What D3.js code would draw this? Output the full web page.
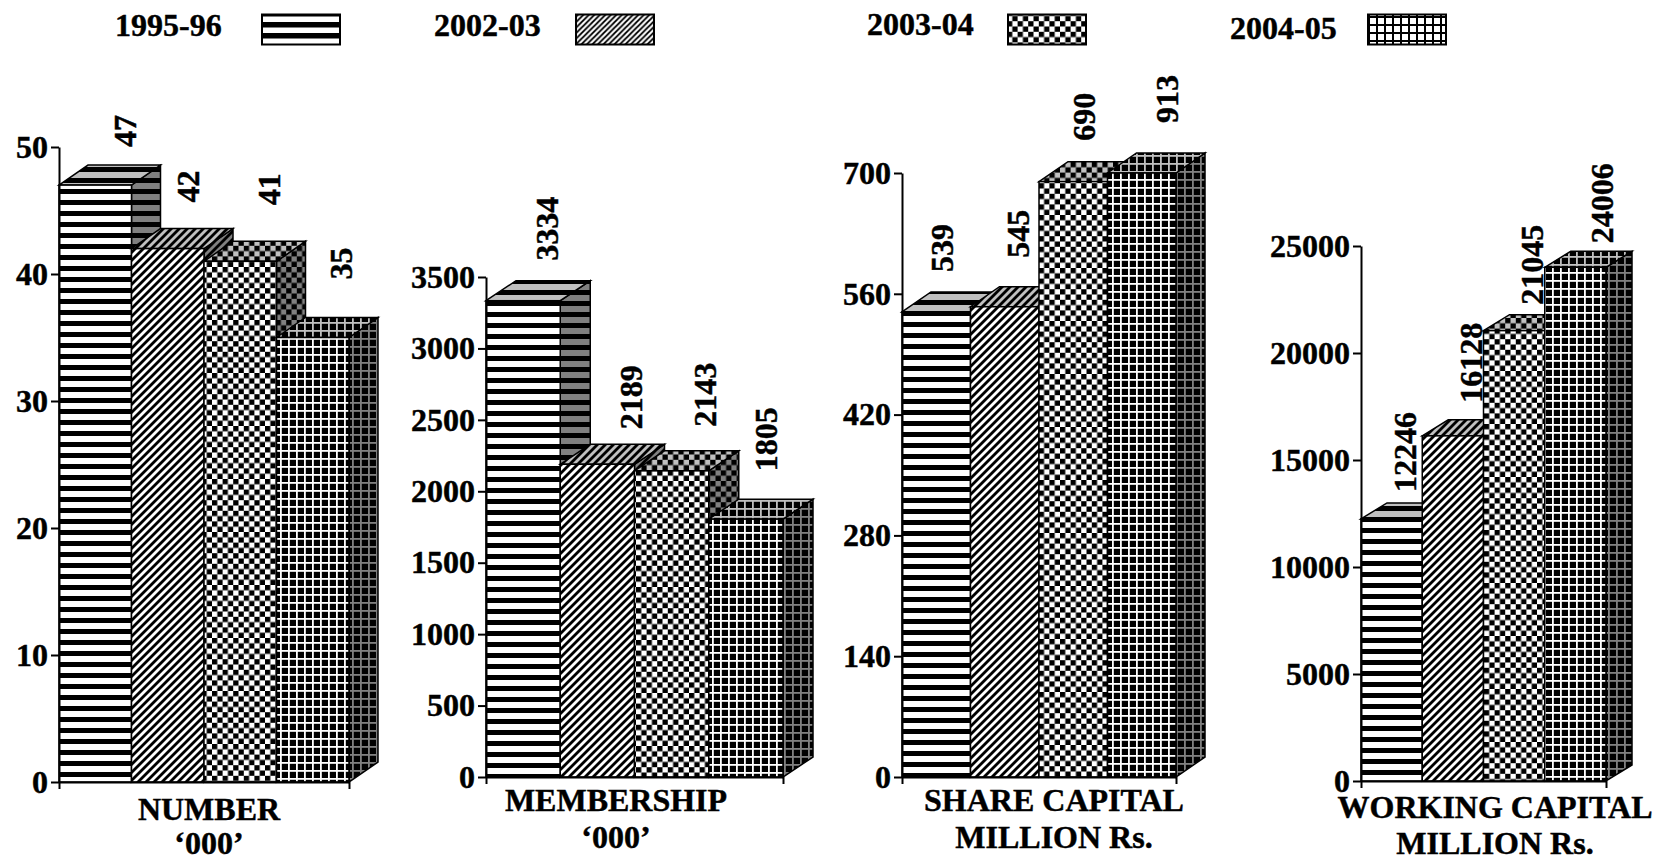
<!DOCTYPE html>
<html><head><meta charset="utf-8">
<script src="https://cdn.jsdelivr.net/npm/d3@7"></script>
<style>
html,body{margin:0;padding:0;background:#fff;overflow:hidden}
text{font-family:"Liberation Serif","Times New Roman",serif;font-weight:bold;fill:#000;stroke:#000;stroke-width:.45px}
</style></head><body>
<script>
const seasons = ["1995-96","2002-03","2003-04","2004-05"];
const numberValues = [47,42,41,35];
const membershipValues = [3334,2189,2143,1805];
const shareCapitalValues = [539,545,690,913];
const workingCapitalValues = [12246,16128,21045,24006];
const numberTicks = [0,10,20,30,40,50];
const membershipTicks = [0,500,1000,1500,2000,2500,3000,3500];
const shareCapitalTicks = [0,140,280,420,560,700];
const workingCapitalTicks = [0,5000,10000,15000,20000,25000];
const numberTitle = ["NUMBER","‘000’"];
const membershipTitle = ["MEMBERSHIP","‘000’"];
const shareCapitalTitle = ["SHARE CAPITAL","MILLION Rs."];
const workingCapitalTitle = ["WORKING CAPITAL","MILLION Rs."];

// layout (pixels), separate from the data
const panels = [
 {values:numberValues,ticks:numberTicks,title:numberTitle,x0:59,x1:349,y0:782,yTop:147,dx:29,dy:20,phase:2,
  ldx:[77,67.5,76,75.5],ldy:[-38,-46,-56,-58],tx:209,ty:[820,854]},
 {values:membershipValues,ticks:membershipTicks,title:membershipTitle,x0:486,x1:783,y0:777,yTop:277,dx:30,dy:20,phase:4,
  ldx:[72,81.75,81.5,68.25],ldy:[-40,-35,-44,-48],tx:616,ty:[811,848]},
 {values:shareCapitalValues,ticks:shareCapitalTicks,title:shareCapitalTitle,x0:902,x1:1176,y0:777,yTop:173,dx:29,dy:20,phase:3,
  ldx:[51,58.5,56,70.5],ldy:[-40,-49,-41,-50],tx:1054,ty:[811,848]},
 {values:workingCapitalValues,ticks:workingCapitalTicks,title:workingCapitalTitle,x0:1361,x1:1606,y0:781,yTop:246,dx:26,dy:16,phase:0,
  ldx:[55,59.75,59.5,68.25],ldy:[-27,-33,-26,-24],tx:1495,ty:[818,854]}
];
const legendLayout = [
 {tx:115,ty:36,sx:262},{tx:434,ty:36,sx:576},{tx:867,ty:35,sx:1008},{tx:1230,ty:39,sx:1368}
];
const FS = 32;

const svg = d3.select("body").append("svg").attr("width",1663).attr("height",861).style("display","block");
const defs = svg.append("defs");
const shades = {front:"#ffffff",side:"#808080",top:"#c0c0c0"};

function pat(id,w,h,bg,draw){
  const p = defs.append("pattern").attr("id",id).attr("patternUnits","userSpaceOnUse").attr("width",w).attr("height",h);
  p.append("rect").attr("width",w).attr("height",h).attr("fill",bg);
  draw(p);
}
const blk = (p,x,y,w,h,c="#000")=>p.append("rect").attr("x",x).attr("y",y).attr("width",w).attr("height",h).attr("fill",c);
function diag(p,s,b){
  p.append("path").attr("fill","#000").attr("d",`M0,${s-b}L${s-b},0H${s}L0,${s}Z M${s-b},${s}L${s},${s-b}V${s}Z`);
}
function makeSet(name,light,diagP,checkC){
  pat(`${name}-0`,11,11,light,p=>blk(p,0,0,11,5));
  pat(`${name}-1`,diagP,diagP,light,p=>diag(p,diagP,diagP*0.5));
  pat(`${name}-2`,checkC*2,checkC*2,light,p=>{blk(p,0,0,checkC,checkC);blk(p,checkC,checkC,checkC,checkC);});
  pat(`${name}-3`,8,8,"#000",p=>{blk(p,0,0,8,1.8,light);blk(p,0,0,1.8,8,light);});
}
Object.entries(shades).forEach(([k,v])=>makeSet(k,v,8,5.3));
// legend swatches use their own, finer texture
pat("lg-0",78,11,"#fff",p=>blk(p,0,0,78,5.5));
pat("lg-1",5.5,5.5,"#fff",p=>diag(p,5.5,2.6));
pat("lg-2",10.6,10.6,"#fff",p=>{blk(p,0,0,5.3,5.3);blk(p,5.3,5.3,5.3,5.3);});
pat("lg-3",8,8,"#fff",p=>{blk(p,0,0,8,2);blk(p,0,0,2,8);});

// legend
const leg = svg.append("g").selectAll("g").data(seasons).join("g");
leg.append("text").attr("x",(d,i)=>legendLayout[i].tx).attr("y",(d,i)=>legendLayout[i].ty)
  .attr("font-size",FS).text(d=>d);
leg.append("rect").attr("x",(d,i)=>legendLayout[i].sx).attr("y",14.5).attr("width",78).attr("height",30)
  .attr("fill",(d,i)=>`url(#lg-${i})`).attr("stroke","#000").attr("stroke-width",2);

const poly = d3.line();
panels.forEach(P=>{
  const g = svg.append("g").attr("transform",`translate(0,${P.phase})`);
  const y = d3.scaleLinear().domain([0,d3.max(P.ticks)]).range([P.y0-P.phase,P.yTop-P.phase]).clamp(true);
  const x = d3.scaleBand().domain(d3.range(P.values.length)).range([P.x0,P.x1]);
  const y0 = y(0), w = x.bandwidth();

  const bars = g.selectAll("g.bar").data(P.values).join("g").attr("class","bar");
  const sty = s=>s.attr("stroke","#000").attr("stroke-width",1.5).attr("stroke-linejoin","miter");
  sty(bars.append("path").attr("fill",(d,i)=>`url(#side-${i})`)
    .attr("d",(d,i)=>{const X=x(i)+w,T=y(d);
      return poly([[X,T],[X+P.dx,T-P.dy],[X+P.dx,y0-P.dy],[X,y0]])+"Z";}));
  sty(bars.append("path").attr("fill",(d,i)=>`url(#top-${i})`)
    .attr("d",(d,i)=>{const X=x(i),T=y(d);
      return poly([[X,T],[X+P.dx,T-P.dy],[X+w+P.dx,T-P.dy],[X+w,T]])+"Z";}));
  sty(bars.append("rect").attr("x",(d,i)=>x(i)).attr("y",d=>y(d)).attr("width",w)
    .attr("height",d=>y0-y(d)).attr("fill",(d,i)=>`url(#front-${i})`));

  // axes
  const ya = g.append("g").attr("transform",`translate(${P.x0},0)`)
    .call(d3.axisLeft(y).tickValues(P.ticks).tickSize(8).tickSizeOuter(0).tickPadding(3).tickFormat(d3.format("d")));
  const xa = g.append("g").attr("transform",`translate(0,${y0})`)
    .call(d3.axisBottom(d3.scaleLinear().domain([0,1]).range([P.x0,P.x1])).tickValues([0,1]).tickSize(7).tickSizeOuter(0).tickFormat(""));
  [ya,xa].forEach(a=>{a.selectAll("path,line").attr("stroke","#000").attr("stroke-width",2);
    a.selectAll("text").attr("font-size",FS);});

  // value labels (rotated)
  g.selectAll("text.val").data(P.values).join("text").attr("class","val")
    .attr("font-size",FS)
    .attr("transform",(d,i)=>`translate(${x(i)+P.ldx[i]},${y(d)+P.ldy[i]}) rotate(-90)`)
    .text(d=>d);

  // titles
  svg.selectAll(null).data(P.title).join("text")
    .attr("x",P.tx).attr("y",(d,i)=>P.ty[i]).attr("text-anchor","middle").attr("font-size",FS).text(d=>d);
});
</script></body></html>
